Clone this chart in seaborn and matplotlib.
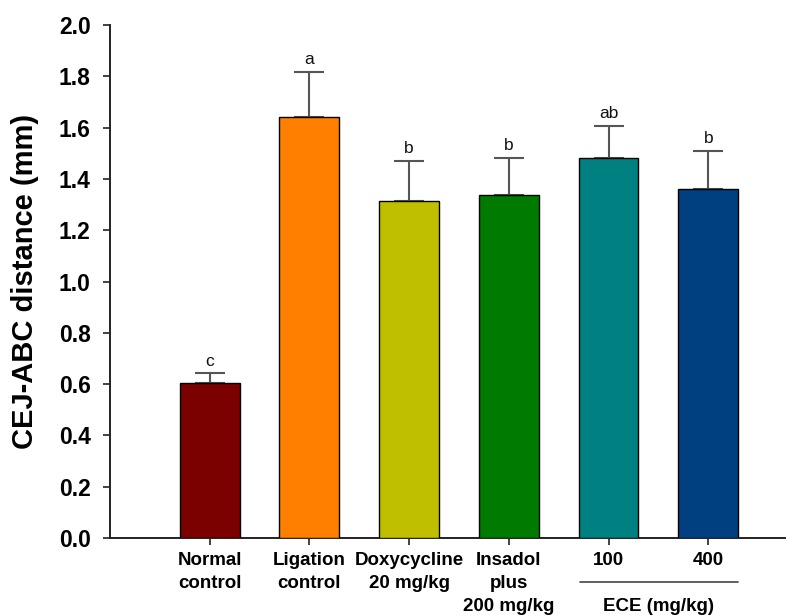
import numpy as np
import matplotlib
matplotlib.use("Agg")
import matplotlib.pyplot as plt
import matplotlib.transforms as mtransforms
import seaborn as sns

# Group labels, means, upper error (SD) and significance letters
groups = ["Normal\ncontrol", "Ligation\ncontrol", "Doxycycline\n20 mg/kg",
          "Insadol\nplus\n200 mg/kg", "100", "400"]
means = [0.604, 1.643, 1.314, 1.337, 1.483, 1.361]
errors = [0.038, 0.174, 0.156, 0.146, 0.123, 0.149]
letters = ["c", "a", "b", "b", "ab", "b"]
colors = ["#7B0000", "#FF8000", "#BFBF00", "#007A00", "#008080", "#004080"]
y_ticks = [0.0, 0.2, 0.4, 0.6, 0.8, 1.0, 1.2, 1.4, 1.6, 1.8, 2.0]

sns.set_style("ticks")
plt.rcParams["font.family"] = ["Liberation Sans", "DejaVu Sans"]
plt.rcParams["text.color"] = "black"
plt.rcParams["axes.labelcolor"] = "black"
plt.rcParams["xtick.color"] = "black"
plt.rcParams["ytick.color"] = "black"

fig = plt.figure(figsize=(7.97, 6.16), dpi=100)
ax = fig.add_axes([0.138, 0.1266, 0.847, 0.8328])

x = np.arange(len(groups))
sns.barplot(x=x, y=means, hue=x, palette=colors, width=0.6, saturation=1,
            edgecolor="black", linewidth=1.0, legend=False, ax=ax)
for p in ax.patches:
    p.set_zorder(3)

# upper-only error bars; lower cap sits behind the bar
ax.errorbar(x, means, yerr=[np.zeros(len(means)), errors], fmt="none",
            ecolor="#555555", elinewidth=1.5, capsize=11, capthick=1.5,
            zorder=1)

for xi, m, e, lab in zip(x, means, errors, letters):
    ax.text(xi, m + e + 0.018, lab, ha="center", va="bottom",
            fontsize=12.5, color="#111111")

ax.set_xlim(-1.0, 5.77)
ax.set_ylim(0, 2.0)
ax.set_yticks(y_ticks)
ax.set_yticklabels([f"{t:.1f}" for t in y_ticks], fontsize=16.5,
                   fontweight="bold")
ax.set_xticks(x)
ax.set_xticklabels(groups, fontsize=13.5, fontweight="bold",
                   linespacing=1.45, va="top")
ax.set_xlabel("")
ax.set_ylabel("CEJ-ABC distance (mm)", fontsize=21, fontweight="bold",
              labelpad=14)

ax.tick_params(axis="y", length=5, width=1.2, pad=9, color="#222222")
ax.tick_params(axis="x", length=5, width=1.2, pad=5, color="#222222")
for side in ("top", "right"):
    ax.spines[side].set_visible(False)
for side in ("left", "bottom"):
    ax.spines[side].set_linewidth(1.4)
    ax.spines[side].set_color("#222222")

# ECE dose group bracket under the 100 / 400 labels
trans = mtransforms.blended_transform_factory(ax.transData, ax.transAxes)
ax.plot([3.715, 5.30], [-0.0858, -0.0858], transform=trans, color="#444444",
        lw=1.2, clip_on=False)
ax.text(4.5, -0.1326, "ECE (mg/kg)", transform=trans, ha="center",
        va="center", fontsize=13.5, fontweight="bold")

fig.savefig("out.png", dpi=100)
